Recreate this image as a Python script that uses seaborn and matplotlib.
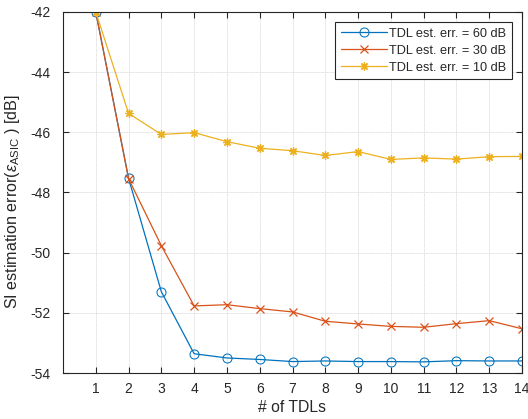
import numpy as np
import pandas as pd
import seaborn as sns
import matplotlib

matplotlib.use("Agg")
import matplotlib.pyplot as plt

# Data.
n_tdls = list(range(1, 15))
err_60db = [-42.0, -47.53, -51.30, -53.36, -53.50, -53.55, -53.62,
            -53.60, -53.62, -53.62, -53.63, -53.59, -53.60, -53.60]
err_30db = [-42.0, -47.54, -49.77, -51.77, -51.73, -51.86, -51.97,
            -52.28, -52.37, -52.45, -52.48, -52.36, -52.26, -52.53]
err_10db = [-42.0, -45.37, -46.07, -46.01, -46.31, -46.53, -46.61,
            -46.77, -46.64, -46.90, -46.85, -46.89, -46.81, -46.80]
labels = ["TDL est. err. = 60 dB", "TDL est. err. = 30 dB", "TDL est. err. = 10 dB"]
y_ticks = [-54, -52, -50, -48, -46, -44, -42]

sns.set_style("ticks")
plt.rcParams["font.family"] = ["Liberation Sans", "DejaVu Sans"]
plt.rcParams["mathtext.fontset"] = "custom"
plt.rcParams["mathtext.rm"] = "Liberation Sans"
plt.rcParams["mathtext.it"] = "Liberation Sans:italic"

fig = plt.figure(figsize=(5.28, 4.19), dpi=100)
ax = fig.add_axes([63 / 528, 46 / 419, 459 / 528, 361 / 419])

colors = ["#0072BD", "#D95319", "#EDB120"]
markers = ["o", "x", (8, 2, 0)]
for vals, lab, col, mk in zip([err_60db, err_30db, err_10db], labels, colors, markers):
    df = pd.DataFrame({"x": n_tdls, "y": vals})
    if mk == "o":
        kw = {"markerfacecolor": "none", "markeredgecolor": col, "markersize": 6.5}
    else:
        kw = {"markersize": 6, "markeredgecolor": col, "markeredgewidth": 0.9}
    sns.lineplot(data=df, x="x", y="y", color=col, marker=mk, linewidth=0.9,
                 label=lab, ax=ax, **kw)

ax.set_xlim(0, 14)
ax.set_ylim(-54, -42)
ax.set_xticks(n_tdls)
ax.set_yticks(y_ticks)
ax.set_yticklabels([str(t) for t in y_ticks])
ax.tick_params(direction="in", top=True, right=True, labelsize=10,
               colors="#262626", length=4, width=0.8)
ax.tick_params(axis="x", pad=6.5)
ax.tick_params(axis="y", pad=9)
for sp in ax.spines.values():
    sp.set_color("#262626")
    sp.set_linewidth(0.8)
ax.grid(True, color="#dcdcdc", linewidth=0.6, linestyle=(0, (1, 0.5)))

ax.set_xlabel("# of TDLs", fontsize=11.3, color="#262626", labelpad=3)
ax.set_ylabel(r"SI estimation error($\epsilon_{\mathrm{ASIC}}$ ) [dB]",
              fontsize=11.6, color="#262626")
ax.yaxis.set_label_coords(-0.09, 0.475)

leg = ax.legend(loc="upper right", fontsize=9.2, frameon=True, fancybox=False,
                edgecolor="#262626", framealpha=1, borderpad=0.45,
                handlelength=3.6, handletextpad=0.15, labelspacing=0.38,
                borderaxespad=0, bbox_to_anchor=(0.978, 0.972))
leg.get_frame().set_linewidth(0.8)

fig.savefig("out.png", dpi=100)
